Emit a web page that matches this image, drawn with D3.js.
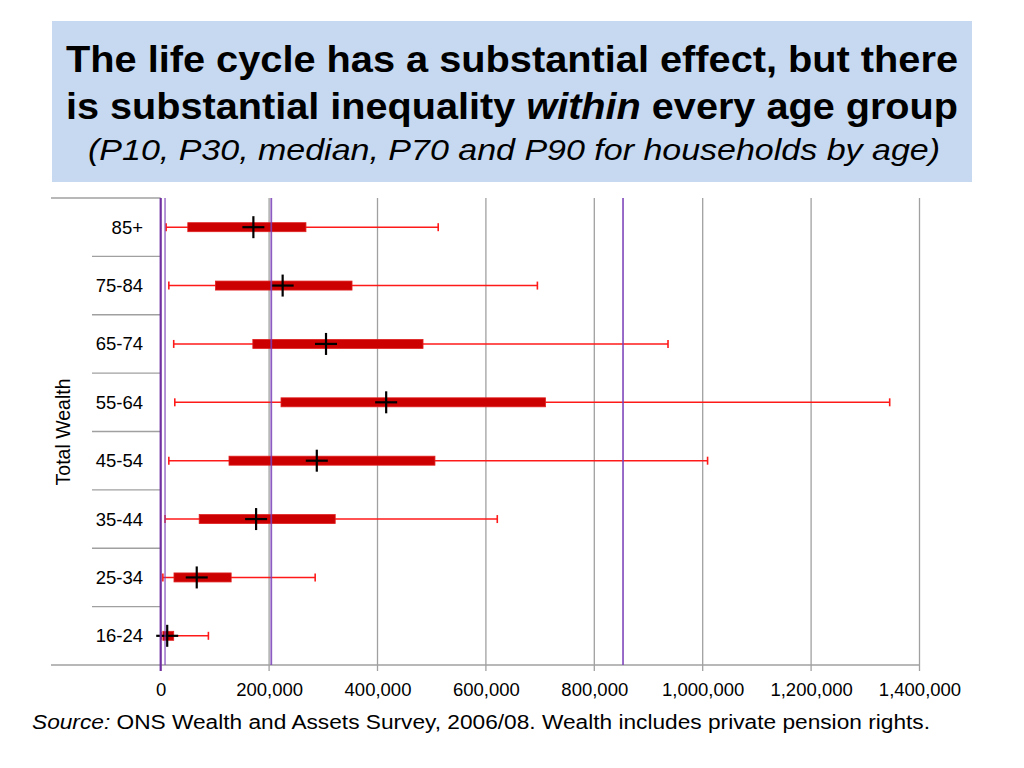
<!DOCTYPE html>
<html><head><meta charset="utf-8">
<script src="https://cdn.jsdelivr.net/npm/d3@7"></script>
<style>body{margin:0;background:#fff}svg{display:block}</style>
</head><body>
<svg id="c" width="1024" height="768"></svg>
<script>
const categories = ["85+","75-84","65-74","55-64","45-54","35-44","25-34","16-24"];
const p10 = [10000, 15000, 24000, 26000, 15000, 8000, 4000, 1000];
const p30 = [50000, 101000, 170000, 222000, 126000, 71000, 24500, 4000];
const median = [171000, 225000, 305000, 416000, 288000, 176000, 66500, 12000];
const p70 = [268000, 353000, 484000, 710000, 506000, 322000, 130000, 24000];
const p90 = [512000, 695000, 936000, 1345000, 1009000, 621000, 285000, 88000];
const xTicks = [0,200000,400000,600000,800000,1000000,1200000,1400000];
const refLines = [8000, 204000, 853000];

const data = categories.map((c,i)=>({c, p10:p10[i], p30:p30[i], med:median[i], p70:p70[i], p90:p90[i]}));

const svg = d3.select("#c");
const font = "'Liberation Sans', Arial, sans-serif";

// Title box
svg.append("rect").attr("x",52).attr("y",21).attr("width",920).attr("height",161).attr("fill","#c6d9f0");
svg.append("text").attr("x",66).attr("y",72).attr("font-family",font).attr("font-weight","bold")
  .attr("font-size",37.5).attr("textLength",892).attr("lengthAdjust","spacingAndGlyphs").attr("fill","#000")
  .text("The life cycle has a substantial effect, but there");
const t2 = svg.append("text").attr("x",66).attr("y",119).attr("font-family",font).attr("font-weight","bold")
  .attr("font-size",37.5).attr("textLength",892).attr("lengthAdjust","spacingAndGlyphs").attr("fill","#000");
t2.append("tspan").text("is substantial inequality ");
t2.append("tspan").attr("font-style","italic").text("within");
t2.append("tspan").text(" every age group");
svg.append("text").attr("x",88).attr("y",160).attr("font-family",font).attr("font-style","italic")
  .attr("font-size",30).attr("textLength",852).attr("lengthAdjust","spacingAndGlyphs").attr("fill","#000")
  .text("(P10, P30, median, P70 and P90 for households by age)");

// Scales
const x = d3.scaleLinear().domain([0,1400000]).range([160.7,919.5]);
const y = d3.scaleBand().domain(categories).range([198,665]);
const plotTop = 198, plotBottom = 665;

// gridlines
svg.append("g").selectAll("line").data(xTicks.slice(1)).join("line")
  .attr("x1",d=>x(d)).attr("x2",d=>x(d)).attr("y1",plotTop).attr("y2",plotBottom+6)
  .attr("stroke","#a0a0a0").attr("stroke-width",1.3);

// left band separators
const bounds = categories.slice(1).map(c=>y(c));
svg.append("g").selectAll("line").data(bounds).join("line")
  .attr("x1",92).attr("x2",x(0)).attr("y1",d=>d).attr("y2",d=>d)
  .attr("stroke","#a0a0a0").attr("stroke-width",1.3);
svg.append("line").attr("x1",51).attr("x2",x(0)).attr("y1",plotTop).attr("y2",plotTop).attr("stroke","#a0a0a0").attr("stroke-width",1.3);
// bottom axis
svg.append("line").attr("x1",51).attr("x2",x(1400000)).attr("y1",plotBottom).attr("y2",plotBottom).attr("stroke","#a0a0a0").attr("stroke-width",1.3);

// x axis labels
const xAxis = d3.axisBottom(x).tickValues(xTicks).tickSize(0).tickPadding(0).tickFormat(d3.format(","));
const gx = svg.append("g").attr("transform",`translate(0,${plotBottom})`).call(xAxis);
gx.select(".domain").remove();
gx.selectAll("text").attr("font-family",font).attr("font-size",18.5).attr("fill","#000").attr("dy",null).attr("y",31);

// y labels
const yAxis = d3.axisLeft(y).tickSize(0).tickPadding(0);
const gy = svg.append("g").attr("transform","translate(143,0)").call(yAxis);
gy.select(".domain").remove();
gy.selectAll("text").attr("font-family",font).attr("font-size",18.5).attr("fill","#000").attr("x",0).attr("dy","0.35em");

svg.append("text").attr("transform","translate(70,432) rotate(-90)").attr("text-anchor","middle")
  .attr("font-family",font).attr("font-size",19.5).attr("fill","#000").text("Total Wealth");

// whiskers
const g = svg.append("g");
const row = g.selectAll("g").data(data).join("g").attr("transform",d=>`translate(0,${y(d.c)+y.bandwidth()/2})`);
row.append("line").attr("x1",d=>x(d.p10)).attr("x2",d=>x(d.p90)).attr("y1",0).attr("y2",0).attr("stroke","#ff1a1a").attr("stroke-width",1.6);
row.append("line").attr("x1",d=>x(d.p10)).attr("x2",d=>x(d.p10)).attr("y1",-4).attr("y2",4).attr("stroke","#ff1a1a").attr("stroke-width",1.6);
row.append("line").attr("x1",d=>x(d.p90)).attr("x2",d=>x(d.p90)).attr("y1",-4).attr("y2",4).attr("stroke","#ff1a1a").attr("stroke-width",1.6);
row.append("rect").attr("x",d=>x(d.p30)).attr("width",d=>x(d.p70)-x(d.p30)).attr("y",-4.5).attr("height",9)
  .attr("fill","#cc0000").attr("stroke","#e02020").attr("stroke-width",0.8);

// purple reference lines
svg.append("line").attr("x1",x(0)).attr("x2",x(0)).attr("y1",plotTop).attr("y2",plotBottom+6).attr("stroke","#7030a0").attr("stroke-width",2.2);
svg.append("g").selectAll("line").data(refLines).join("line")
  .attr("x1",d=>x(d)).attr("x2",d=>x(d)).attr("y1",plotTop).attr("y2",plotBottom)
  .attr("stroke","#7a40b8").attr("stroke-width",(d,i)=>i===0?1.3:1.8).attr("opacity",0.85);

// median crosses
row.append("line").attr("x1",d=>x(d.med)-11).attr("x2",d=>x(d.med)+11).attr("y1",0).attr("y2",0).attr("stroke","#000").attr("stroke-width",2.2);
row.append("line").attr("x1",d=>x(d.med)).attr("x2",d=>x(d.med)).attr("y1",-11).attr("y2",11).attr("stroke","#000").attr("stroke-width",2.2);

// source
const s = svg.append("text").attr("x",32).attr("y",729).attr("font-family",font).attr("font-size",19.5)
  .attr("textLength",898).attr("lengthAdjust","spacingAndGlyphs").attr("fill","#000");
s.append("tspan").attr("font-style","italic").text("Source:");
s.append("tspan").text(" ONS Wealth and Assets Survey, 2006/08. Wealth includes private pension rights.");
</script>
</body></html>
